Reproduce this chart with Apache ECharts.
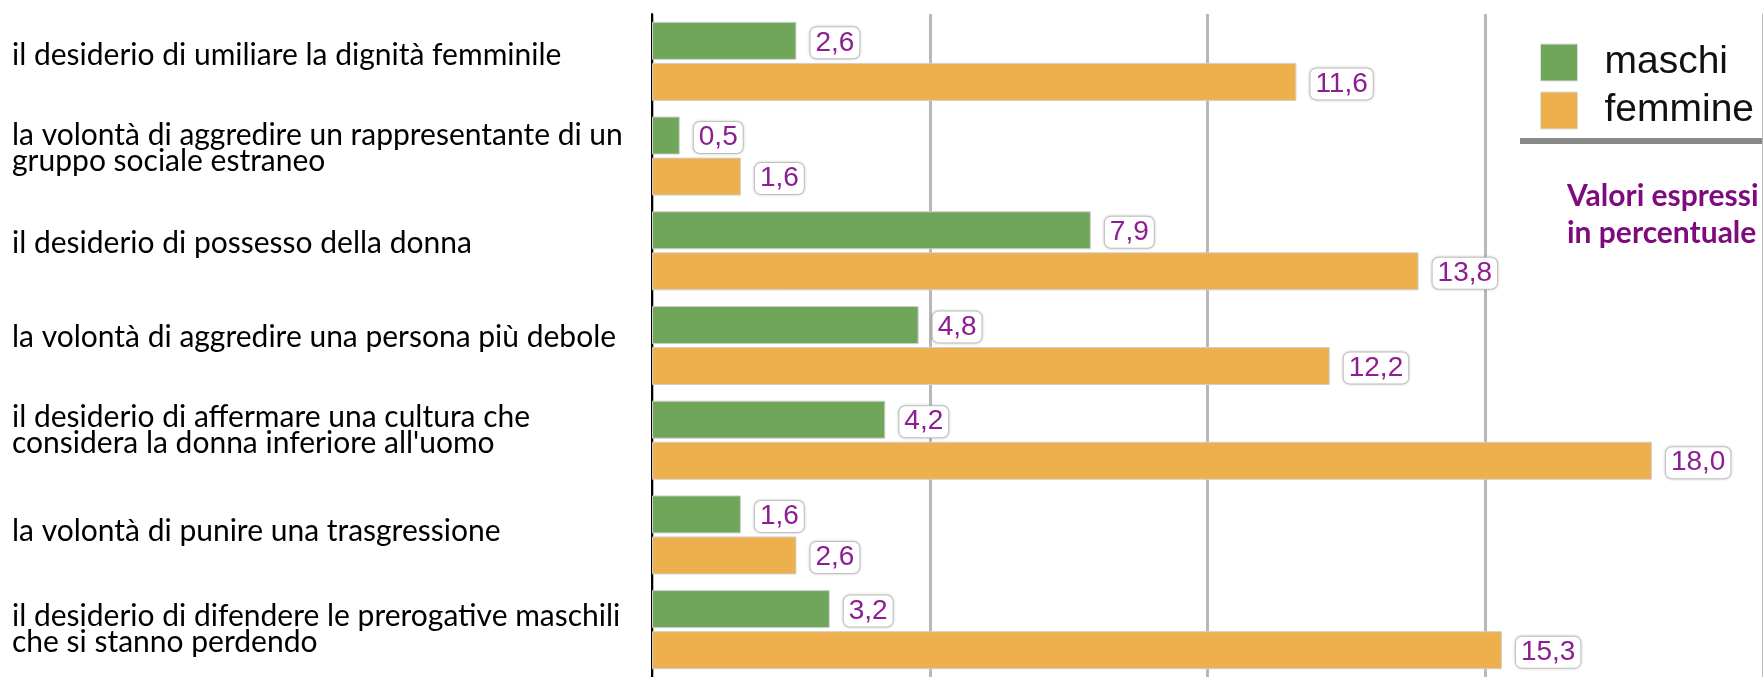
<!DOCTYPE html>
<html>
<head>
<meta charset="utf-8">
<script src="https://cdn.jsdelivr.net/npm/echarts@6/dist/echarts.min.js"></script>
<style>
html,body{margin:0;padding:0;background:#fff;}
#c{width:1763px;height:677px;}
</style>
</head>
<body>
<div id="c"></div>
<script>
const categories = [
  "il desiderio di umiliare la dignità femminile",
  "la volontà di aggredire un rappresentante di un\ngruppo sociale estraneo",
  "il desiderio di possesso della donna",
  "la volontà di aggredire una persona più debole",
  "il desiderio di affermare una cultura che\nconsidera la donna inferiore all'uomo",
  "la volontà di punire una trasgressione",
  "il desiderio di difendere le prerogative maschili\nche si stanno perdendo"
];
const maschi = [2.6, 0.5, 7.9, 4.8, 4.2, 1.6, 3.2];
const femmine = [11.6, 1.6, 13.8, 12.2, 18.0, 2.6, 15.3];
const seriesNames = ["maschi", "femmine"];
const noteText = "Valori espressi\nin percentuale";

// label styling: upward nudge (px) of each category label, as in the original slide
const labelRaise = [6, 8, 7, 8, 10, 4, 0];

const chart = echarts.init(document.getElementById('c'), null, {renderer: 'canvas'});
const fmt = p => p.value.toFixed(1).replace('.', ',');
const labelStyle = {
  show: true,
  position: 'right',
  distance: 14,
  formatter: fmt,
  fontFamily: 'Liberation Sans',
  fontSize: 28,
  color: '#8c1e91',
  backgroundColor: '#ffffff',
  borderColor: '#cccccc',
  borderWidth: 1,
  borderRadius: 6,
  padding: [3, 5, 0, 5],
  shadowBlur: 3,
  shadowColor: 'rgba(0,0,0,0.18)',
  offset: [0, 2]
};
const rich = {t: {fontFamily: 'Lato', fontSize: 30, lineHeight: 26, color: '#000'}};
labelRaise.forEach((r, i) => { rich['s' + i] = {fontSize: 1, lineHeight: Math.max(1, 2 * r)}; });
const catFormatter = (v, i) => {
  const lines = v.split('\n');
  const body = lines.map(l => '{t|' + l + '}').join('\n');
  return labelRaise[i] > 0 ? body + '\n{s' + i + '| }' : body;
};
chart.setOption({
  animation: false,
  backgroundColor: '#ffffff',
  grid: {left: 652, top: 14, width: 1128, height: 666, containLabel: false},
  xAxis: {
    type: 'value', min: 0, max: 20, interval: 5,
    axisLabel: {show: false}, axisTick: {show: false}, axisLine: {show: false},
    splitLine: {show: true, lineStyle: {color: '#b8b8b8', width: 3}}
  },
  yAxis: {
    type: 'category', data: categories, inverse: true,
    axisLine: {show: true, onZero: false, lineStyle: {color: '#000', width: 2}},
    axisTick: {show: false},
    axisLabel: {align: 'left', margin: 640, color: '#000', formatter: catFormatter, rich: rich}
  },
  legend: {
    orient: 'vertical', left: 1540, top: 43, padding: 0,
    itemWidth: 37, itemHeight: 37, itemGap: 9, icon: 'rect',
    data: seriesNames,
    itemStyle: {borderColor: '#dddddd', borderWidth: 1},
    textStyle: {fontFamily: 'Liberation Sans', fontSize: 39, color: '#111', lineHeight: 37, padding: [0, 0, 0, 22]}
  },
  graphic: [
    {type: 'rect', shape: {x: 1520, y: 138, width: 260, height: 6}, style: {fill: '#888888'}},
    {type: 'text', left: 1567, top: 178, style: {text: noteText, fontFamily: 'Lato', fontWeight: 'bold', fontSize: 30, lineHeight: 37, fill: '#7e0a7e'}}
  ],
  series: [
    {name: seriesNames[0], type: 'bar', data: maschi, barWidth: 38, barGap: '8%',
     itemStyle: {color: '#70a65a', borderColor: '#cfcfcf', borderWidth: 1}, label: labelStyle},
    {name: seriesNames[1], type: 'bar', data: femmine, barWidth: 38,
     itemStyle: {color: '#edb04c', borderColor: '#cfcfcf', borderWidth: 1}, label: labelStyle}
  ]
});
</script>
</body>
</html>
